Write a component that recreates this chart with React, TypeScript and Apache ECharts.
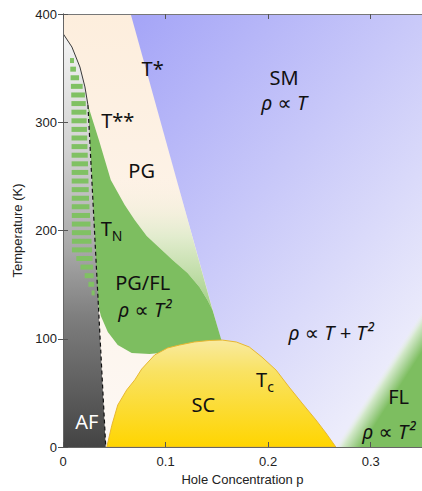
import React, { useEffect, useRef } from "react";
import * as echarts from "echarts";

// ---- axes ----
const P_MIN = 0;
const P_MAX = 0.35;
const T_MIN = 0;
const T_MAX = 400;
const P_STEP = 0.1;
const T_STEP = 100;

// ---- phase boundaries, [hole concentration p, temperature K] ----
const pgRegion = [[0, 400], [0.066, 400], [0.183, 0], [0, 0]];
const tStarStar = [
  [0.0243, 316], [0.035, 283.6], [0.0466, 246.7], [0.0602, 223.6], [0.0699, 209.7],
  [0.0816, 194.9], [0.0942, 183.8], [0.1068, 172.7], [0.1214, 160.7], [0.133, 147.8],
  [0.1408, 135.8], [0.1458, 126.6],
];
const tStarAtTN = [[0.0906, 316]];
const tStarLow = [[0.1544, 98.8]];
const pgflBottom = [
  [0.1379, 97], [0.1233, 92.4], [0.1039, 87.8], [0.0845, 85.9], [0.067, 86.8],
  [0.0534, 94.2], [0.0437, 106.2], [0.0369, 121], [0.034, 133],
];
const scDome = [
  [0.0427, 0], [0.0476, 20], [0.0534, 38.8], [0.0621, 52.7], [0.07, 62], [0.0767, 72],
  [0.0893, 85], [0.102, 91.5], [0.1136, 94.2], [0.128, 97], [0.1427, 98.4], [0.1553, 98.8],
  [0.169, 97], [0.1816, 92.4], [0.194, 83], [0.2078, 71], [0.2204, 55.4], [0.233, 40.6],
  [0.2466, 25], [0.2563, 13], [0.266, 0],
];
const flEdge = [[0.265, 0], [0.353, 130]];
const afCurve = [[0, 382], [0.0087, 369.5], [0.0165, 351], [0.0214, 332.6], [0.0243, 316]];
const afLine = [[0.0243, 316], [0.0417, 0]];
const stripeLeft = [[0.0068, 357], [0.0082, 320], [0.0087, 182], [0.0136, 173], [0.0233, 154], [0.03, 137]];
const stripeRight = [[0.0107, 357], [0.0136, 345], [0.0184, 336], [0.0214, 325], [0.0228, 311], [0.0254, 228], [0.0312, 137]];

// ---- annotations ----
const labels = [
  { text: "T*", at: [0.0874, 349.5] },
  { text: "SM", at: [0.2155, 341.8] },
  { text: "\u03C1 \u221D T", at: [0.2155, 317.8], italic: true },
  { text: "T**", at: [0.0534, 302] },
  { text: "PG", at: [0.0767, 255] },
  { text: "PG/FL", at: [0.0777, 152.4] },
  { text: "\u03C1 \u221D T\u00B2", at: [0.0796, 126.6], italic: true },
  { text: "\u03C1 \u221D T + T\u00B2", at: [0.2612, 106.2], italic: true },
  { text: "SC", at: [0.1369, 38.8] },
  { text: "FL", at: [0.3272, 46.2] },
  { text: "\u03C1 \u221D T\u00B2", at: [0.3175, 13.9], italic: true },
  { text: "AF", at: [0.0233, 23.1], white: true },
];
const subLabels = [
  { main: "T", sub: "N", at: [0.0417, 202.3] },
  { main: "T", sub: "c", at: [0.1932, 61.9] },
];

const GREEN = "#7dbe60";
const FONT = "'Noto Sans', 'Open Sans', 'DejaVu Sans', sans-serif";

function interp(arr: number[][], T: number): number {
  for (let i = 0; i < arr.length - 1; i++) {
    const a = arr[i], b = arr[i + 1];
    if (T <= a[1] && T >= b[1]) {
      const t = a[1] === b[1] ? 0 : (a[1] - T) / (a[1] - b[1]);
      return a[0] + (b[0] - a[0]) * t;
    }
  }
  return T > arr[0][1] ? arr[0][0] : arr[arr.length - 1][0];
}

function txt(x: number, y: number, text: string, font: string, fill: string, align = "center") {
  return {
    type: "text",
    x,
    y,
    style: {
      text,
      font,
      fill,
      align,
      verticalAlign: "middle",
      textAlign: align,
      textVerticalAlign: "middle",
    },
  };
}

function renderItem(_params: any, api: any) {
  const c = (pt: number[]) => api.coord(pt);
  const pts = (arr: number[][]) => arr.map(c);
  const LG = echarts.graphic.LinearGradient;
  const children: any[] = [];
  const [x0, yTop] = c([P_MIN, T_MAX]);
  const [x1, yBot] = c([P_MAX, T_MIN]);

  // SM background (blue)
  children.push({
    type: "rect",
    shape: { x: x0, y: yTop, width: x1 - x0, height: yBot - yTop },
    style: {
      fill: new LG(x0 + 67, yTop, x0 + 394, yTop + 280, [
        { offset: 0, color: "#a4a4f7" },
        { offset: 1, color: "#ececfb" },
      ], true),
    },
  });

  // PG (peach)
  children.push({
    type: "polygon",
    shape: { points: pts(pgRegion) },
    style: {
      fill: new LG(0, yTop, 0, yBot, [
        { offset: 0, color: "#fdeedd" },
        { offset: 1, color: "#fdf8f4" },
      ], true),
    },
  });

  // PG fading into green between T** and T*
  const yA = c([0, 250])[1];
  const yB = c([0, 126])[1];
  children.push({
    type: "polygon",
    shape: { points: pts([...tStarStar, ...tStarAtTN]) },
    style: {
      fill: new LG(0, yA, 0, yB, [
        { offset: 0, color: "rgba(253,240,225,0)" },
        { offset: 0.45, color: "rgba(226,236,206,1)" },
        { offset: 1, color: "rgba(160,207,132,1)" },
      ], true),
    },
  });

  // PG/FL green
  children.push({
    type: "polygon",
    shape: { points: pts([...tStarStar, ...tStarLow, ...pgflBottom]) },
    style: { fill: GREEN },
  });

  // FL green with soft edge
  const e0 = c(flEdge[0]);
  const e1 = c(flEdge[1]);
  const flPoly = [e0, c([P_MAX + 0.01, T_MIN]), c([P_MAX + 0.01, flEdge[1][1]]), e1];
  const dx = e1[0] - e0[0], dy = e1[1] - e0[1];
  const len = Math.hypot(dx, dy);
  const nx = -dy / len, ny = dx / len;
  const sgn = nx > 0 ? 1 : -1;
  const mx = (e0[0] + e1[0]) / 2, my = (e0[1] + e1[1]) / 2;
  children.push({
    type: "polygon",
    shape: { points: flPoly },
    style: {
      fill: new LG(mx, my, mx + sgn * nx * 22, my + sgn * ny * 22, [
        { offset: 0, color: "rgba(236,242,232,0)" },
        { offset: 0.3, color: "rgba(210,232,200,0.95)" },
        { offset: 1, color: GREEN },
      ], true),
    },
  });

  // SC dome
  const yDomeTop = c([0, 99])[1];
  children.push({
    type: "polygon",
    shape: { points: pts(scDome) },
    style: {
      fill: new LG(0, yDomeTop, 0, yBot, [
        { offset: 0, color: "#f9eaa0" },
        { offset: 0.3, color: "#f9e262" },
        { offset: 1, color: "#ffd500" },
      ], true),
      stroke: "#e8b830",
      lineWidth: 1,
    },
  });

  // AF region
  const yAfTop = c([0, 382])[1];
  children.push({
    type: "polygon",
    shape: { points: pts([[0, 0], ...afCurve, afLine[1]]) },
    style: {
      fill: new LG(0, yAfTop, 0, yBot, [
        { offset: 0, color: "#f4f4f4" },
        { offset: 0.28, color: "#d2d2d2" },
        { offset: 0.52, color: "#a9a9a9" },
        { offset: 0.69, color: "#7d7d7d" },
        { offset: 1, color: "#444444" },
      ], true),
    },
  });

  // green stripes inside AF (texture)
  const sTop = stripeLeft[0][1];
  const sBot = stripeLeft[stripeLeft.length - 1][1];
  for (let T = sTop; T >= sBot; T -= 7.95) {
    const l = c([interp(stripeLeft, T), T]);
    const r = c([interp(stripeRight, T), T]);
    if (r[0] - l[0] < 1) continue;
    children.push({
      type: "rect",
      shape: { x: l[0], y: l[1] - 2.5, width: r[0] - l[0], height: 5 },
      style: { fill: "#80c163" },
    });
  }

  // AF boundary lines
  children.push({
    type: "polyline",
    shape: { points: pts(afCurve) },
    style: { stroke: "#3a3a3a", lineWidth: 1, fill: null },
  });
  children.push({
    type: "polyline",
    shape: { points: pts(afLine) },
    style: { stroke: "#111", lineWidth: 1.2, lineDash: [4, 3], fill: null },
  });

  // labels
  for (const lb of labels) {
    const [x, y] = c(lb.at);
    const font = `${lb.italic ? "italic " : ""}20px ${FONT}`;
    children.push(txt(x, y, lb.text, font, lb.white ? "#ffffff" : "#111111"));
  }
  for (const s of subLabels) {
    const [x, y] = c(s.at);
    children.push(txt(x + 6, y, s.main, `20px ${FONT}`, "#111111", "right"));
    children.push(txt(x + 6, y + 7, s.sub, `14px ${FONT}`, "#111111", "left"));
  }

  return { type: "group", children };
}

export default function App() {
  const ref = useRef<HTMLDivElement>(null);
  useEffect(() => {
    if (!ref.current) return;
    const chart = echarts.init(ref.current, undefined, { renderer: "svg" });
    const axisCommon = {
      type: "value",
      z: 10,
      axisLine: { show: true, lineStyle: { color: "#666", width: 1 } },
      axisTick: { show: true, inside: true, length: 5, lineStyle: { color: "#555" } },
      splitLine: { show: false },
    };
    const labelStyle = { color: "#222", fontSize: 13, fontFamily: "'Liberation Sans', Arial, sans-serif" };
    chart.setOption({
      animation: false,
      backgroundColor: "#ffffff",
      grid: { left: 63, right: -2, top: 14, bottom: 44, containLabel: false },
      xAxis: [
        {
          ...axisCommon,
          position: "bottom",
          min: P_MIN,
          max: P_MAX,
          interval: P_STEP,
          name: "Hole Concentration p",
          nameLocation: "middle",
          nameGap: 26,
          nameTextStyle: { ...labelStyle },
          axisLabel: { ...labelStyle, margin: 8, showMaxLabel: false },
        },
        {
          ...axisCommon,
          position: "top",
          min: P_MIN,
          max: P_MAX,
          interval: P_STEP,
          axisLabel: { show: false },
          axisLine: { show: true, onZero: false, lineStyle: { color: "#777", width: 1 } },
        },
      ],
      yAxis: [
        {
          ...axisCommon,
          position: "left",
          min: T_MIN,
          max: T_MAX,
          interval: T_STEP,
          name: "Temperature (K)",
          nameLocation: "middle",
          nameGap: 31,
          nameTextStyle: { ...labelStyle },
          axisLabel: { ...labelStyle, margin: 6 },
        },
        {
          ...axisCommon,
          position: "right",
          min: T_MIN,
          max: T_MAX,
          interval: T_STEP,
          axisLabel: { show: false },
        },
      ],
      series: [
        {
          type: "custom",
          xAxisIndex: 0,
          yAxisIndex: 0,
          z: 1,
          clip: true,
          data: [[0, 0]],
          encode: { x: 0, y: 1 },
          renderItem,
        },
      ],
    });
    return () => chart.dispose();
  }, []);
  return <div ref={ref} style={{ position: "fixed", left: 0, top: 0, width: 422, height: 491 }} />;
}
